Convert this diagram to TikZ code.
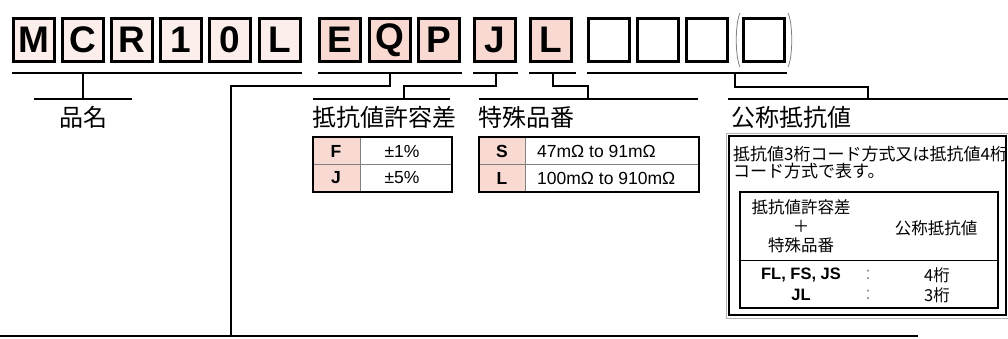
\documentclass[tikz,border=0pt]{standalone}
\usepackage{fontspec}
\setmainfont{Liberation Sans}
\newfontfamily\jpfont{Noto Sans CJK JP}
\usetikzlibrary{calc}
\definecolor{palepink}{HTML}{FCEEEA}
\definecolor{rosepink}{HTML}{F8DAD2}

\begin{document}
\begin{tikzpicture}[x=1pt,y=-1pt,
  charbox/.style={draw, line width=3pt, minimum width=41pt, minimum height=43pt, inner sep=0pt, font=\fontsize{37}{37}\selectfont\bfseries},
  bar/.style={line width=2.6pt},
  lead/.style={line width=2.2pt},
  heading/.style={inner sep=0pt, font=\jpfont\fontsize{24}{24}\selectfont},
  cell/.style={inner sep=0pt, font=\fontsize{17.5}{17.5}\selectfont},
  boldcell/.style={inner sep=0pt, font=\fontsize{17.5}{17.5}\selectfont\bfseries},
  jptext/.style={inner sep=0pt, font=\jpfont\fontsize{17}{17}\selectfont}]
\useasboundingbox (0,0) rectangle (1008,338);

% code boxes
\foreach \n/\x/\c in {M/34/palepink, C/83/palepink, R/132/palepink, 1/181/palepink, 0/230/palepink, L/280/palepink, E/340/rosepink, Q/390/rosepink, P/439/rosepink, J/495/rosepink}
  \node[charbox, fill=\c] (b\n) at (\x,40) {\n};
\node[charbox, fill=rosepink] (bLL) at (551,40) {L};
\foreach \i/\x in {1/609, 2/658, 3/707, 4/764}
  \node[charbox] (bX\i) at (\x,40) {};
\draw[gray, line width=.8pt] (740,13) .. controls (735,24) and (735,56) .. (740,67);
\draw[gray, line width=.8pt] (788,13) .. controls (793,24) and (793,56) .. (788,67);

% group bars
\foreach \a/\b in {12/302, 318/462, 473/518, 529/576, 587/787}
  \draw[bar] (\a,73) -- (\b,73);
\foreach \a/\b in {34/132, 313/450, 479/698, 728/1008}
  \draw[bar] (\a,99) -- (\b,99);
\draw[bar] (0,336) -- (918,336);

% leads
\draw[lead] (83,73) -- (83,99);
\draw[lead] (390,73) |- (231,86) -- (231,336);
\draw[lead] (496,73) |- (404,86) -- (404,99);
\draw[lead] (553,73) |- (588,86) -- (588,99);
\draw[lead] (735,73) |- (868,87) -- (868,99);

% headings
\node[heading] (hName) at (83,117) {品名};
\node[heading, anchor=west] (hTol) at (312,117) {抵抗値許容差};
\node[heading, anchor=west] (hSpec) at (478,117) {特殊品番};
\node[heading, anchor=west] (hVal) at (731,117) {公称抵抗値};

% tolerance table
\fill[rosepink] (313,137) rectangle (360,192);
\draw[gray, line width=.8pt] (360,137) -- (360,192) (313,164) -- (452,164);
\draw[line width=1.8pt] (313,137) rectangle (452,192);
\node[boldcell] (tF) at (336,151) {F};
\node[boldcell] (tJ) at (336,178) {J};
\node[cell] (tF1) at (402,151) {±1\%};
\node[cell] (tJ5) at (402,178) {±5\%};

% special table
\fill[rosepink] (479,137) rectangle (525,192);
\draw[gray, line width=.8pt] (525,137) -- (525,192) (479,164) -- (699,164);
\draw[line width=1.8pt] (479,137) rectangle (699,192);
\node[boldcell] (sS) at (502,151) {S};
\node[boldcell] (sL) at (502,178) {L};
\node[cell, anchor=west] (sSr) at (537,151) {47mΩ to 91mΩ};
\node[cell, anchor=west] (sLr) at (537,178) {100mΩ to 910mΩ};

% nominal value box
\draw[gray!60, line width=1pt] (726,133) rectangle (1008,318);
\draw[line width=1.6pt] (729,136) rectangle (1006,315);
\node[jptext, anchor=base west] (vA) at (733,160) {抵抗値3桁コード方式又は抵抗値4桁};
\node[jptext, anchor=base west] (vB) at (733,177) {コード方式で表す。};
\draw[line width=1.8pt] (740,192) rectangle (998,308);
\draw[line width=1pt] (740,260) -- (998,260);
\node[jptext, align=center, font=\jpfont\fontsize{16.5}{19}\selectfont] (cH1) at (801,226) {抵抗値許容差\\＋\\特殊品番};
\node[jptext, font=\jpfont\fontsize{16.5}{16.5}\selectfont] (cH2) at (936,228) {公称抵抗値};
\node[boldcell, font=\fontsize{16.5}{16.5}\selectfont\bfseries] (r1a) at (801,275) {FL, FS, JS};
\node[cell, text=gray] (r1b) at (868,275) {:};
\node[jptext, font=\jpfont\fontsize{16.5}{16.5}\selectfont] (r1c) at (937,275) {4桁};
\node[boldcell, font=\fontsize{16.5}{16.5}\selectfont\bfseries] (r2a) at (801,295) {JL};
\node[cell, text=gray] (r2b) at (868,295) {:};
\node[jptext, font=\jpfont\fontsize{16.5}{16.5}\selectfont] (r2c) at (937,295) {3桁};
\end{tikzpicture}
\end{document}
